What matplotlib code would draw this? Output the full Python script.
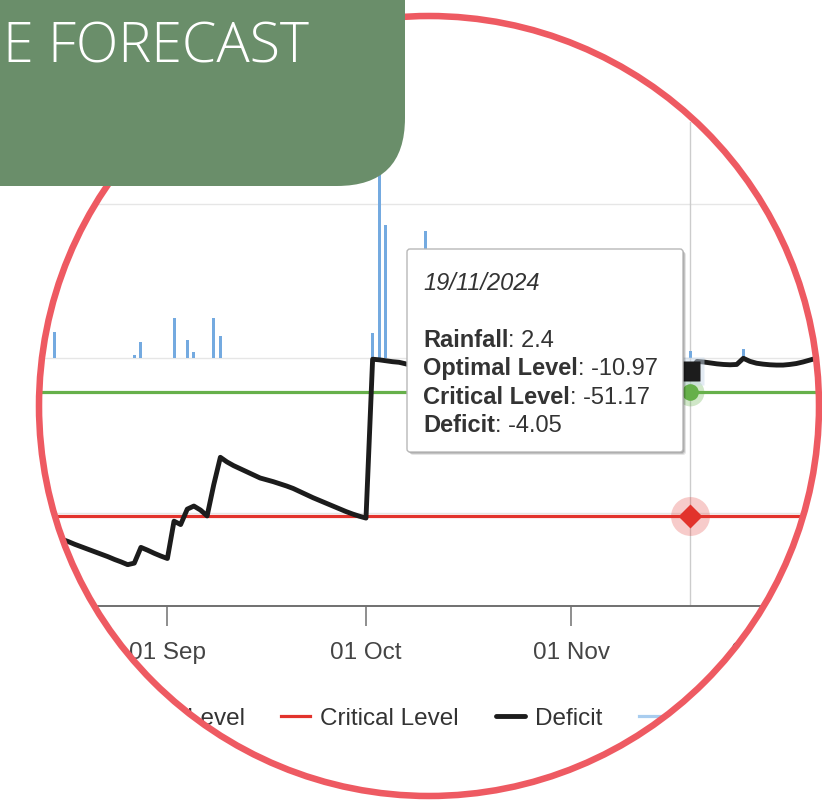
import matplotlib as mpl
mpl.use('Agg')
import matplotlib.pyplot as plt
import matplotlib.dates as mdates
import numpy as np
import pandas as pd
from matplotlib.patches import Circle, FancyBboxPatch, PathPatch
from matplotlib.path import Path
from matplotlib.lines import Line2D

plt.rcParams['font.family'] = ['Liberation Sans', 'DejaVu Sans']

# daily soil moisture deficit, 12 Aug - 9 Dec 2024
deficit_aug = [-56.0, -56.7, -57.3, -57.9, -58.6, -59.4, -60.3, -61.1, -61.9, -62.7,
               -63.5, -64.3, -65.2, -66.0, -66.9, -66.4, -61.3, -62.2, -63.2, -64.1]
deficit_sep = [-64.9, -52.8, -53.9, -48.9, -47.9, -49.2, -51.1, -41.0, -32.1, -33.6,
               -34.8, -35.8, -36.8, -37.8, -38.8, -39.4, -40.0, -40.7, -41.4, -42.2,
               -43.2, -44.2, -45.2, -46.1, -47.0, -47.9, -48.8, -49.7, -50.5, -51.2]
deficit_oct = [-51.8, -0.3, -0.5, -0.8, -1.1, -1.3, -1.8, -2.3, -2.8, 0.0,
               -0.6, -1.2, -1.7, -2.2, -2.6, -3.0, -3.4, -3.8, -4.1, -1.0,
               -1.5, -1.9, -2.3, -2.7, -3.0, -3.3, -3.6, -3.9, -4.1, -4.3, -4.5]
deficit_nov = [-4.7, -4.9, -5.0, -2.0, -2.4, -2.8, -3.1, -3.4, -3.6, -3.8,
               -1.5, -1.9, -2.3, -2.6, -2.9, -3.2, -3.5, -3.8, -4.05, -1.0,
               -1.2, -1.5, -1.8, -2.0, -2.1, -2.0, 0.0, -1.0, -1.6, -1.9]
deficit_dec = [-2.1, -2.2, -2.2, -2.0, -1.7, -1.2, -0.6, 0.0, -0.5]
deficit = deficit_aug + deficit_sep + deficit_oct + deficit_nov + deficit_dec
deficit_dates = pd.date_range('2024-08-12', periods=len(deficit), freq='D')

rain_dates = ['2024-08-15', '2024-08-27', '2024-08-28', '2024-09-02', '2024-09-04',
              '2024-09-05', '2024-09-08', '2024-09-09', '2024-10-02', '2024-10-03',
              '2024-10-04', '2024-10-10', '2024-10-20', '2024-11-04', '2024-11-11',
              '2024-11-19', '2024-11-27', '2024-12-08']
rain_mm = [8.5, 1.0, 5.2, 13.1, 5.9, 2.0, 13.1, 7.2, 8.2, 95.0,
           43.3, 41.3, 8.0, 6.0, 5.0, 2.4, 3.0, 3.0]

optimal_level = -10.97
critical_level = -51.17

hover_date = '2024-11-19'
hover_rain = 2.4
hover_deficit = -4.05

title = 'E FORECAST'

W, H, DPI = 822, 804, 100


def inch(x, y):
    # pixel position (from top-left) -> inches for dpi_scale_trans
    return x / DPI, (H - y) / DPI


fig = plt.figure(figsize=(W / DPI, H / DPI), dpi=DPI)
fig.patch.set_facecolor('white')
ax = fig.add_axes([0, 1 - 607 / H, 1, (607 - 123) / H])

c_green = '#66b04a'
c_red = '#e2332c'
c_black = '#1c1c1c'
c_rain = '#74aae0'

oct1 = mdates.date2num(pd.Timestamp('2024-10-01'))
ax.set_xlim(oct1 - 366 / 6.62, oct1 + (W - 366) / 6.62)
ax.set_ylim(-80.3, 76.6)

ax.bar(pd.to_datetime(rain_dates), rain_mm, width=0.45, color=c_rain, zorder=2)
ax.axvline(pd.Timestamp(hover_date), color='#cccccc', lw=1.0, zorder=1)
l_opt, = ax.plot([deficit_dates[0], deficit_dates[-1] + pd.Timedelta(days=30)],
                 [optimal_level, optimal_level], color=c_green, lw=2.3, zorder=3)
l_crit, = ax.plot([deficit_dates[0], deficit_dates[-1] + pd.Timedelta(days=30)],
                  [critical_level, critical_level], color=c_red, lw=2.3, zorder=3)
l_def, = ax.plot(deficit_dates, deficit, color=c_black, lw=3.5, zorder=4,
                 solid_joinstyle='round', solid_capstyle='round')

# hover markers
hd = pd.Timestamp(hover_date)
ax.plot([hd], [critical_level], 'o', ms=28, color=c_red, alpha=0.25, mec='none', zorder=5)
ax.plot([hd], [critical_level], 'D', ms=12, color=c_red, mec='none', zorder=6)
ax.plot([hd], [optimal_level], 'o', ms=20, color=c_green, alpha=0.3, mec='none', zorder=5)
ax.plot([hd], [optimal_level], 'o', ms=12, color=c_green, mec='none', zorder=6)
ax.plot([hd], [hover_deficit], 's', ms=20, color='#c8d8e8', alpha=0.5, mec='none', zorder=5)
ax.plot([hd], [hover_deficit], 's', ms=14, color=c_black, mec='none', zorder=6)

ax.xaxis.set_major_locator(mdates.MonthLocator())
ax.xaxis.set_major_formatter(mdates.DateFormatter('%d %b'))
ax.tick_params(axis='x', length=14.4, width=1.1, color='#707070', labelsize=17.5,
               labelcolor='#444444', pad=11)
ax.set_yticks([-50, 0, 50])
ax.tick_params(axis='y', left=False, labelleft=False)
ax.yaxis.grid(True, color='#e6e6e6', lw=1)
ax.set_axisbelow(True)
for s in ['top', 'right', 'left']:
    ax.spines[s].set_visible(False)
ax.spines['bottom'].set_color('#707070')
ax.spines['bottom'].set_linewidth(1.4)
ax.set_facecolor('white')

# tooltip
tx0, ty0, tx1, ty1 = 407, 250, 683, 453
for off, a in [(3, 0.10), (2, 0.15), (1, 0.2)]:
    sh = FancyBboxPatch(inch(tx0 + off, ty1 + off), (tx1 - tx0) / DPI, (ty1 - ty0) / DPI,
                        boxstyle='round,pad=0,rounding_size=0.03', transform=fig.dpi_scale_trans,
                        fc='black', ec='none', alpha=a, zorder=19, clip_on=False)
    ax.add_patch(sh)
tip = FancyBboxPatch(inch(tx0, ty1), (tx1 - tx0) / DPI, (ty1 - ty0) / DPI,
                     boxstyle='round,pad=0,rounding_size=0.03', transform=fig.dpi_scale_trans,
                     fc='white', ec='#b8b8b8', lw=1, zorder=20, clip_on=False)
ax.add_patch(tip)
ax.text(*inch(423, 290), pd.Timestamp(hover_date).strftime('%d/%m/%Y'),
        transform=fig.dpi_scale_trans, fontsize=17, style='italic', color='#333333',
        va='baseline', zorder=21, clip_on=False)
rows = [('Rainfall', f'{hover_rain}'), ('Optimal Level', f'{optimal_level:.2f}'),
        ('Critical Level', f'{critical_level:.2f}'), ('Deficit', f'{hover_deficit:.2f}')]
for (lab, val), yb in zip(rows, [347, 375.5, 404, 432.5]):
    lt = ax.text(*inch(423, yb), lab, transform=fig.dpi_scale_trans, fontsize=17,
                 weight='bold', color='#333333', va='baseline', zorder=21, clip_on=False)
    ax.annotate(f': {val}', xy=(1, 0), xycoords=lt, va='bottom', ha='left', fontsize=17,
                color='#333333', zorder=21, annotation_clip=False)

# legend
handles = [l_opt, l_crit, l_def, Line2D([], [], color='#a9cdef', lw=2.3)]
labels = ['Optimal Level', 'Critical Level', 'Deficit', 'Rainfall']
fig.legend(handles, labels, loc='center', bbox_to_anchor=(408 / W, 1 - 719 / H), ncol=4,
           frameon=False, fontsize=17.5, handlelength=1.2, handletextpad=0.42,
           columnspacing=1.5, labelcolor='#333333')

# circular crop
cx, cy = inch(429, 407)
r = 3.90
rect = np.array([[-0.2, -0.2], [W / DPI + 0.2, -0.2], [W / DPI + 0.2, H / DPI + 0.2],
                 [-0.2, H / DPI + 0.2], [-0.2, -0.2]])
th = np.linspace(0, -2 * np.pi, 400)
circ = np.column_stack([cx + r * np.cos(th), cy + r * np.sin(th)])
mask = Path.make_compound_path(Path(rect, closed=True), Path(circ, closed=True))
fig.add_artist(PathPatch(mask, transform=fig.dpi_scale_trans, fc='white', ec='none', zorder=10))
fig.add_artist(Circle((cx, cy), r, transform=fig.dpi_scale_trans, fill=False,
                      ec='#ee5a62', lw=4.7, zorder=11))

# title banner
fig.add_artist(FancyBboxPatch((-1.0, (H - 187) / DPI), 5.05, 3.0,
                              boxstyle='round,pad=0,rounding_size=0.68',
                              transform=fig.dpi_scale_trans, fc='#6a8e6a', ec='none', zorder=12))
fig.text(*inch(309, 63), title, transform=fig.dpi_scale_trans, ha='right', va='baseline',
         fontsize=40, color='white', family=['Open Sans', 'DejaVu Sans'], weight='light',
         zorder=13)

fig.savefig('out.png', dpi=DPI)
